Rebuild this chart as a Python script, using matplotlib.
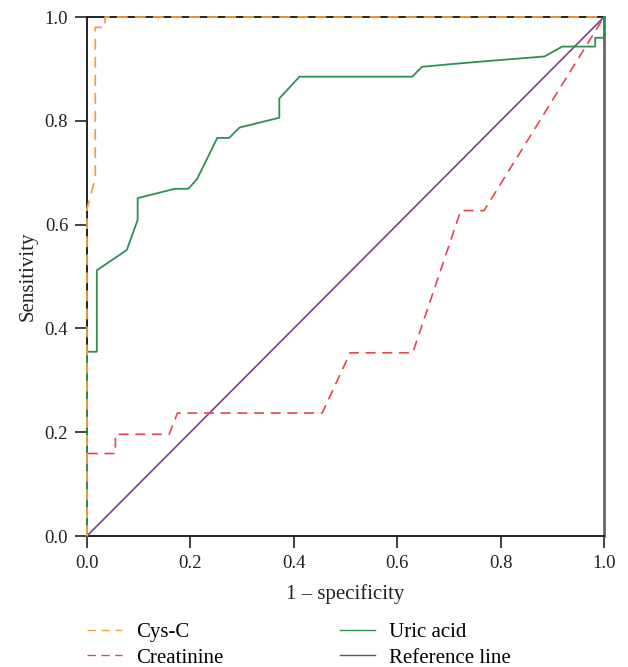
import matplotlib.pyplot as plt

# ROC curve points (1 - specificity, sensitivity)
cysc_x = [0.0, 0.0, 0.016, 0.016, 0.035, 0.035, 1.0]
cysc_y = [0.0, 0.63, 0.69, 0.98, 0.98, 1.0, 1.0]

creat_x = [0.0, 0.0, 0.055, 0.055, 0.159, 0.175, 0.455, 0.509, 0.63, 0.723, 0.768, 1.0]
creat_y = [0.0, 0.159, 0.159, 0.196, 0.196, 0.237, 0.237, 0.353, 0.353, 0.627, 0.627, 1.0]

uric_x = [0.0, 0.0, 0.019, 0.019, 0.077, 0.098, 0.098, 0.170, 0.196, 0.213, 0.252,
          0.275, 0.295, 0.372, 0.372, 0.411, 0.629, 0.648, 0.702, 0.761, 0.885,
          0.919, 0.983, 0.983, 1.0, 1.0]
uric_y = [0.0, 0.355, 0.355, 0.512, 0.551, 0.609, 0.651, 0.669, 0.669, 0.688, 0.767,
          0.767, 0.787, 0.806, 0.843, 0.885, 0.885, 0.904, 0.909, 0.914, 0.924,
          0.943, 0.943, 0.96, 0.96, 1.0]

ref_x = [0.0, 1.0]
ref_y = [0.0, 1.0]

ticks = [0.0, 0.2, 0.4, 0.6, 0.8, 1.0]

plt.rcParams['font.family'] = ['Liberation Serif', 'DejaVu Serif']

fig = plt.figure(figsize=(6.28, 6.67), dpi=100)
ax = fig.add_axes([0.1385, 0.1964, 0.8233, 0.7781])

ax.plot(ref_x, ref_y, color='#7B3F8E', lw=1.2, label='Reference line', zorder=3, clip_on=False)
ax.plot(creat_x, creat_y, color='#E8454F', lw=1.2, ls=(0, (6, 4)), label='Creatinine', zorder=4, clip_on=False)
ax.plot(uric_x, uric_y, color='#2E8F55', lw=1.3, label='Uric acid', zorder=5, clip_on=False)
ax.plot(cysc_x, cysc_y, color='#F5A040', lw=1.3, ls=(0, (6, 4)), label='Cys-C', zorder=6, clip_on=False)

ax.set_xlim(0, 1)
ax.set_ylim(0, 1)
ax.set_xticks(ticks)
ax.set_yticks(ticks)
ax.set_xticklabels([f'{t:.1f}' for t in ticks])
ax.set_yticklabels([f'{t:.1f}' for t in ticks])
ax.tick_params(direction='out', length=8.5, width=1.2, labelsize=13.5, colors='#222222', pad=5)

for side in ['left', 'bottom', 'top']:
    ax.spines[side].set_color('#222222')
    ax.spines[side].set_linewidth(1.4)
ax.spines['right'].set_color('#666666')
ax.spines['right'].set_linewidth(2)

ax.set_xlabel('1 – specificity', fontsize=15, labelpad=9, color='#222222')
ax.set_ylabel('Sensitivity', fontsize=15, labelpad=5, color='#222222')

handles, labels = ax.get_legend_handles_labels()
order = ['Cys-C', 'Creatinine', 'Uric acid', 'Reference line']
hl = dict(zip(labels, handles))
leg = fig.legend([hl[k] for k in order], order, ncol=2, loc='upper left',
                 bbox_to_anchor=(0.122, 0.082), frameon=False, fontsize=15,
                 handlelength=1.7, handletextpad=0.65, columnspacing=5.6,
                 labelspacing=0.27, borderpad=0)
for h in leg.legend_handles:
    h.set_linewidth(1.0)

fig.savefig('out.png', dpi=100)
